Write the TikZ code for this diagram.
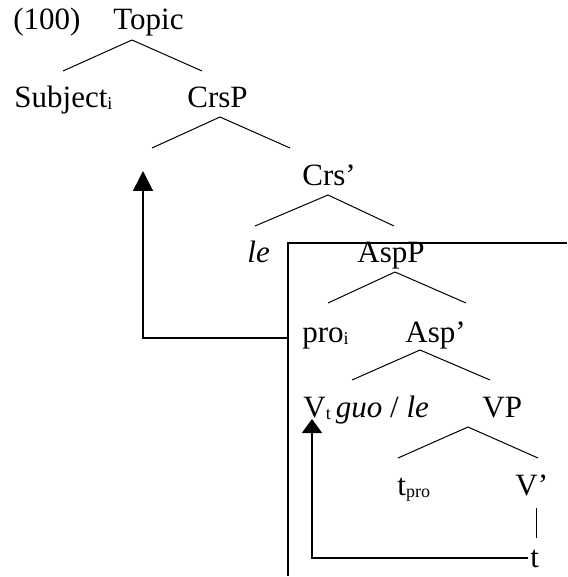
\documentclass[tikz,border=0pt]{standalone}
\usepackage{fontspec}
\setmainfont{Liberation Serif}
\usetikzlibrary{arrows.meta}

\newcommand\subtxt[1]{\raisebox{-1pt}{\fontsize{9}{9}\selectfont #1}}

\begin{document}
\begin{tikzpicture}[x=0.5pt, y=-0.5pt,
        lbl/.style={anchor=base west, inner sep=0pt, font=\fontsize{15.5}{17}\selectfont},
        branch/.style={line width=0.5pt},
        boxline/.style={line width=0.75pt},
        move/.style={line width=0.75pt, -{Triangle[length=10pt, width=10pt]}},
        shortmove/.style={line width=0.75pt, -{Triangle[length=7pt, width=10pt]}}]
    \useasboundingbox (0,0) rectangle (567,577);

    % labels
    \node[lbl] (ex)     at (13,30)   {(100)};
    \node[lbl] (topic)  at (113,30)  {Topic};
    \node[lbl] (subj)   at (14,108)  {Subject\subtxt{i}};
    \node[lbl] (crsp)   at (187,108) {CrsP};
    \node[lbl] (crsbar) at (302,185) {Crs’};
    \node[lbl] (le)     at (247,262) {\textit{le}};
    \node[lbl] (aspp)   at (357,262) {AspP};
    \node[lbl] (pro)    at (302,342) {pro\subtxt{i}};
    \node[lbl] (aspbar) at (405,342) {Asp’};
    \node[lbl] (vt)     at (303,417) {V\subtxt{t}\,\textit{guo} / \textit{le}};
    \node[lbl] (vp)     at (482,417) {VP};
    \node[lbl] (tpro)   at (397,495) {t\subtxt{pro}};
    \node[lbl] (vbar)   at (515,495) {V’};
    \node[lbl] (trace)  at (530,567) {t};

    % branches
    \coordinate (topicA)  at (132,40);
    \coordinate (crspA)   at (220,117);
    \coordinate (crsbarA) at (328,195);
    \coordinate (asppA)   at (395,272);
    \coordinate (aspbarA) at (420,350);
    \coordinate (vpA)     at (468,427);
    \coordinate (vbarA)   at (536,508);
    \draw[branch] (topicA) -- ++(-69,31);
    \draw[branch] (topicA) -- ++(70,31);
    \draw[branch] (crspA) -- ++(-68,31);
    \draw[branch] (crspA) -- ++(70,31);
    \draw[branch] (crsbarA) -- ++(-73,31);
    \draw[branch] (crsbarA) -- ++(66,31);
    \draw[branch] (asppA) -- ++(-67,31);
    \draw[branch] (asppA) -- ++(71,31);
    \draw[branch] (aspbarA) -- ++(-68,30);
    \draw[branch] (aspbarA) -- ++(70,30);
    \draw[branch] (vpA) -- ++(-70,31);
    \draw[branch] (vpA) -- ++(70,31);
    \draw[branch] (vbarA) -- ++(0,30);

    % box
    \coordinate (boxTR) at (567,243);
    \coordinate (boxTL) at (288,243);
    \coordinate (boxBL) at (288,576);
    \draw[boxline] (boxTR) -- (boxTL) -- (boxBL);

    % movement arrows
    \coordinate (proL)   at (288,338);
    \coordinate (subjUp) at (143,171);
    \draw[move] (proL) -| (subjUp);
    \coordinate (traceL) at (528,558);
    \coordinate (vtUp)   at (312,419);
    \draw[shortmove] (traceL) -| (vtUp);
\end{tikzpicture}
\end{document}
